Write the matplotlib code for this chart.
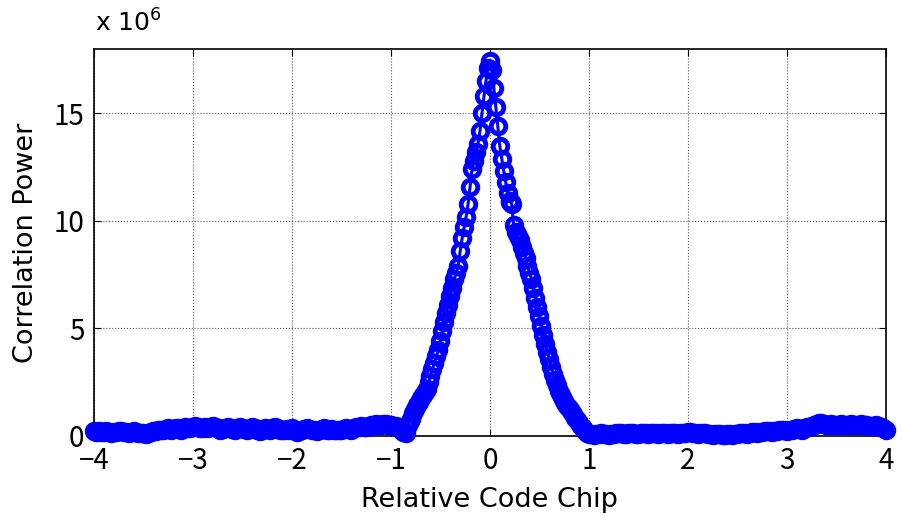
import matplotlib
matplotlib.use("Agg")
import matplotlib.pyplot as plt
import numpy as np

plt.rcParams['font.family'] = ['Noto Sans CJK JP', 'DejaVu Sans']

# flat part left of the peak, -4 .. -0.85 every 0.025 chip (x 1e6)
left_flat = [0.25, 0.2, 0.22, 0.18, 0.2, 0.22, 0.2, 0.15, 0.18, 0.2,
             0.22, 0.25, 0.2, 0.18, 0.15, 0.2, 0.22, 0.18, 0.15, 0.12,
             0.15, 0.1, 0.12, 0.18, 0.22, 0.25, 0.3, 0.28, 0.3, 0.32,
             0.35, 0.3, 0.32, 0.38, 0.35, 0.3, 0.35, 0.4, 0.38, 0.35,
             0.42, 0.45, 0.4, 0.35, 0.38, 0.4, 0.36, 0.42, 0.45, 0.4,
             0.35, 0.3, 0.32, 0.38, 0.4, 0.36, 0.33, 0.3, 0.35, 0.4,
             0.36, 0.32, 0.3, 0.34, 0.4, 0.35, 0.28, 0.25, 0.3, 0.35,
             0.32, 0.3, 0.35, 0.4, 0.36, 0.3, 0.26, 0.28, 0.32, 0.3,
             0.35, 0.3, 0.2, 0.25, 0.3, 0.33, 0.36, 0.32, 0.3, 0.28,
             0.25, 0.28, 0.32, 0.35, 0.3, 0.28, 0.32, 0.3, 0.26, 0.28,
             0.3, 0.34, 0.36, 0.32, 0.3, 0.35, 0.4, 0.42, 0.45, 0.42,
             0.4, 0.45, 0.5, 0.52, 0.55, 0.52, 0.5, 0.54, 0.56, 0.52,
             0.5, 0.48, 0.45, 0.4, 0.3, 0.2, 0.15]

# main correlation peak
peak_chip = [-0.84, -0.82, -0.80, -0.78, -0.76, -0.74, -0.72, -0.70, -0.68, -0.66,
             -0.64, -0.62, -0.60, -0.58, -0.56, -0.54, -0.52, -0.50, -0.48, -0.46,
             -0.44, -0.42, -0.40, -0.38, -0.36, -0.34, -0.32, -0.30, -0.28, -0.26,
             -0.24, -0.22, -0.20, -0.18, -0.16, -0.14, -0.12, -0.10, -0.08, -0.06,
             -0.04, -0.02, 0.00, 0.02, 0.04, 0.06, 0.08, 0.10, 0.12, 0.14,
             0.16, 0.18, 0.20, 0.205, 0.21, 0.215, 0.22, 0.24, 0.26, 0.28,
             0.30, 0.32, 0.34, 0.36, 0.38, 0.40, 0.42, 0.44, 0.46, 0.48,
             0.50, 0.52, 0.54, 0.56, 0.58, 0.60, 0.62, 0.64, 0.66, 0.68,
             0.70, 0.72, 0.74, 0.76, 0.78, 0.80, 0.82, 0.84, 0.86, 0.88,
             0.90, 0.92, 0.94, 0.96, 0.98]
peak_power = [0.4, 0.6, 0.8, 1.05, 1.25, 1.45, 1.6, 1.75, 1.9, 2.05,
              2.2, 2.5, 2.8, 3.1, 3.4, 3.7, 4.0, 4.4, 4.9, 5.3,
              5.7, 6.1, 6.5, 6.9, 7.3, 7.6, 7.9, 8.6, 9.2, 9.7,
              10.2, 10.8, 11.6, 12.4, 12.8, 13.2, 13.6, 14.2, 15.0, 15.8,
              16.5, 17.1, 17.45, 17.0, 16.2, 15.3, 14.4, 13.5, 12.9, 12.3,
              11.8, 11.3, 10.95, 10.9, 10.9, 10.85, 10.8, 9.8, 9.5, 9.3,
              9.1, 8.8, 8.5, 8.3, 7.9, 7.6, 7.3, 6.9, 6.4, 6.0,
              5.6, 5.1, 4.7, 4.3, 3.9, 3.6, 3.2, 2.9, 2.6, 2.35,
              2.1, 1.9, 1.7, 1.55, 1.4, 1.3, 1.15, 1.0, 0.85, 0.75,
              0.6, 0.45, 0.35, 0.25, 0.15]

# flat part right of the peak, 1 .. 4 every 0.025 chip
right_flat = [0.1, 0.08, 0.05, 0.08, 0.1, 0.12, 0.1, 0.08, 0.05, 0.08,
              0.1, 0.12, 0.15, 0.12, 0.1, 0.1, 0.12, 0.14, 0.12, 0.1,
              0.1, 0.12, 0.15, 0.12, 0.1, 0.12, 0.15, 0.13, 0.1, 0.12,
              0.15, 0.12, 0.1, 0.12, 0.14, 0.12, 0.1, 0.12, 0.15, 0.14,
              0.18, 0.2, 0.15, 0.12, 0.1, 0.12, 0.15, 0.12, 0.1, 0.08,
              0.05, 0.08, 0.1, 0.08, 0.05, 0.06, 0.1, 0.08, 0.05, 0.08,
              0.1, 0.12, 0.15, 0.12, 0.1, 0.15, 0.2, 0.18, 0.15, 0.18,
              0.2, 0.22, 0.25, 0.22, 0.2, 0.22, 0.25, 0.28, 0.3, 0.28,
              0.25, 0.28, 0.3, 0.32, 0.35, 0.32, 0.3, 0.35, 0.4, 0.42,
              0.45, 0.5, 0.55, 0.6, 0.58, 0.55, 0.5, 0.52, 0.55, 0.52,
              0.5, 0.52, 0.55, 0.52, 0.5, 0.52, 0.55, 0.52, 0.5, 0.52,
              0.55, 0.52, 0.5, 0.48, 0.45, 0.48, 0.5, 0.45, 0.4, 0.35,
              0.3]

chip = np.concatenate([np.linspace(-4, -0.85, len(left_flat)),
                       peak_chip,
                       np.linspace(1.0, 4.0, len(right_flat))])
power = np.concatenate([left_flat, peak_power, right_flat])

fig = plt.figure(figsize=(9.03, 5.19), dpi=100)
ax = fig.add_axes([0.104, 0.16, 0.877, 0.7457])

ax.plot(chip, power, color='#0000ff', linewidth=2.2, marker='o', ms=10.5,
        mfc='none', mec='#0000ff', mew=3.5, clip_on=False, zorder=3)

ax.set_xlim(-4, 4)
ax.set_ylim(0, 18)
ax.set_xticks([-4, -3, -2, -1, 0, 1, 2, 3, 4])
ax.set_yticks([0, 5, 10, 15])
ax.grid(True, linestyle=':', color='#555555', linewidth=0.8)
ax.tick_params(direction='in', top=True, right=True, labelsize=20, length=5, pad=7)
for s in ax.spines.values():
    s.set_linewidth(1.2)

ax.set_xlabel('Relative Code Chip', fontsize=19.5, family='DejaVu Sans', labelpad=8)
ax.set_ylabel('Correlation Power', fontsize=19.5, family='DejaVu Sans', labelpad=10)
fig.text(0.105, 0.93, 'x 10$^6$', fontsize=18, family='DejaVu Sans',
         ha='left', va='bottom')

fig.savefig('out.png', dpi=100)
